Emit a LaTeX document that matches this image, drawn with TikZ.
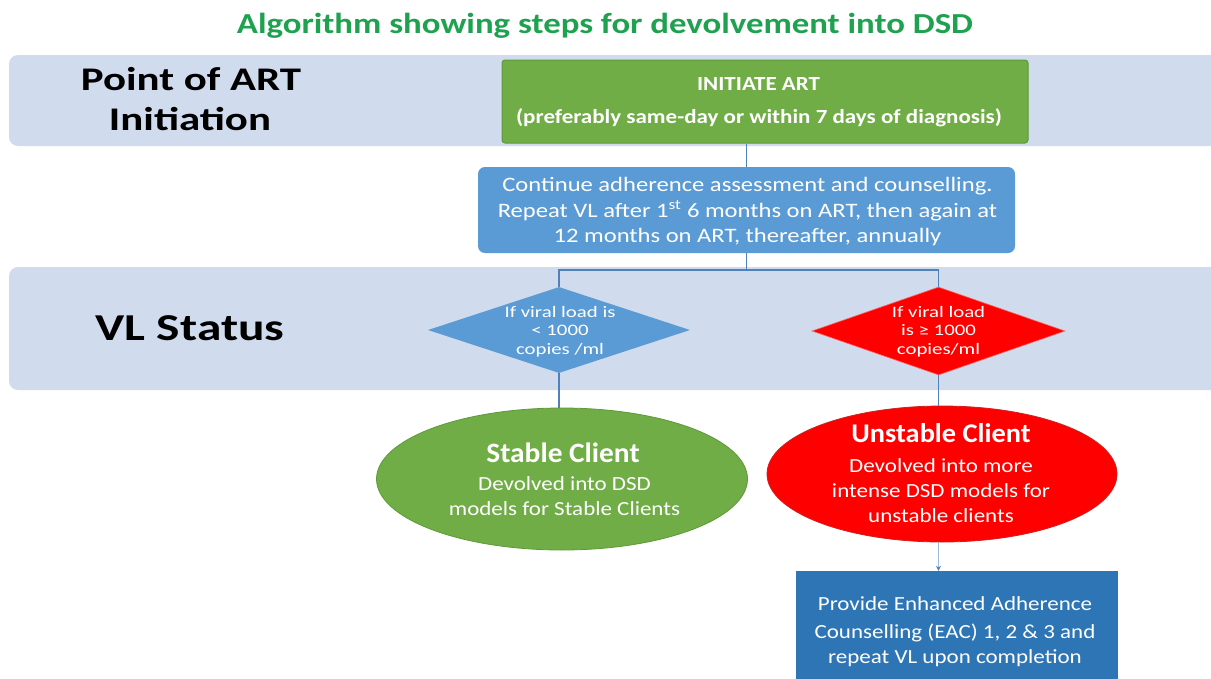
\documentclass[tikz,border=0pt]{standalone}
\usepackage{fontspec}
\setmainfont{Carlito}
\newfontfamily\fw{Carlito}[FakeStretch=1.05]
\newfontfamily\fx{Carlito}[FakeStretch=1.15]
\newfontfamily\fy{Carlito}[FakeStretch=1.2]
\newfontfamily\fz{Carlito}[FakeStretch=1.3]
\usetikzlibrary{shapes.geometric,arrows.meta}
\definecolor{bandc}{HTML}{D0DBED}
\definecolor{greenc}{HTML}{70AD47}
\definecolor{greenb}{HTML}{5E9A38}
\definecolor{bluec}{HTML}{5B9BD5}
\definecolor{eacc}{HTML}{2E75B6}
\definecolor{titlec}{HTML}{1FA24F}
\definecolor{linec}{HTML}{4F81BD}
\definecolor{redb}{HTML}{D02020}
\newcommand{\fs}[1]{\fontsize{#1pt}{1.2\dimexpr #1pt\relax}\selectfont}
\tikzset{
  band/.style={fill=bandc},
  tl/.style={anchor=base,inner sep=0pt,text=white},
  conn/.style={draw=linec,line width=1.1pt},
  dia/.style={diamond,minimum width=#1,minimum height=86,inner sep=0pt},
}
\begin{document}
\begin{tikzpicture}[x=1pt,y=-1pt]
\path[use as bounding box,fill=white] (0,0) rectangle (1211,678);
\begin{scope}
\clip (0,0) rectangle (1211,678);
\fill[band,rounded corners=9] (9,55) rectangle (1240,146);
\fill[band,rounded corners=9] (9,267) rectangle (1240,390);
\end{scope}
% title
\node[tl,text=titlec,font=\fy\bfseries\fs{29}] (title) at (605,33) {Algorithm showing steps for devolvement into DSD};
% row labels
\node[tl,text=black,font=\fz\bfseries\fs{33}] (lab1a) at (191,90) {Point of ART};
\node[tl,text=black,font=\fz\bfseries\fs{33}] (lab1b) at (190,130) {Initiation};
\node[tl,text=black,font=\fz\bfseries\fs{38}] (lab2) at (190,340) {VL Status};
% initiate ART
\node[draw=greenb,fill=greenc,minimum width=526,minimum height=83,rounded corners=3,line width=1pt] (init) at (765,101.5) {};
\node[tl,font=\fx\bfseries\fs{20}] (inita) at (758.5,90) {INITIATE ART};
\node[tl,font=\fx\bfseries\fs{20}] (initb) at (759,123) {(preferably same-day or within 7 days of diagnosis)};
% continue box
\node[fill=bluec,minimum width=537,minimum height=86,rounded corners=7] (cont) at (746.5,210) {};
\node[tl,font=\fy\fs{20.5}] (conta) at (747.5,191) {Continue adherence assessment and counselling.};
\node[tl,font=\fy\fs{20.5}] (contb) at (747.5,217) {Repeat VL after 1\textsuperscript{st} 6 months on ART, then again at};
\node[tl,font=\fy\fs{20.5}] (contc) at (747.5,242) {12 months on ART, thereafter, annually};
% diamonds
\node[dia=262,fill=bluec] (d1) at (559,330) {};
\node[tl,font=\fz\fs{16}] (d1a) at (560,317) {If viral load is};
\node[tl,font=\fz\fs{16}] (d1b) at (560,335.5) {< 1000};
\node[tl,font=\fz\fs{16}] (d1c) at (560,354) {copies /ml};
\node[dia=253,fill=red,draw=red!60!white,line width=0.6pt,minimum height=88] (d2) at (938.5,331) {};
\node[tl,font=\fz\fs{16}] (d2a) at (938.5,317) {If viral load};
\node[tl,font=\fz\fs{16}] (d2b) at (938.5,335.5) {is ≥ 1000};
\node[tl,font=\fz\fs{16}] (d2c) at (938.5,354) {copies/ml};
% ellipses
\node[ellipse,fill=greenc,draw=greenb,line width=0.8pt,minimum width=371,minimum height=142] (e1) at (562,479) {};
\node[tl,font=\fw\bfseries\fs{28}] (e1a) at (563,462) {Stable Client};
\node[tl,font=\fx\fs{20}] (e1b) at (564.5,490) {Devolved into DSD};
\node[tl,font=\fx\fs{20}] (e1c) at (564.5,515) {models for Stable Clients};
\node[ellipse,fill=red,draw=redb,line width=0.8pt,minimum width=350,minimum height=136] (e2) at (942,474) {};
\node[tl,font=\fw\bfseries\fs{27}] (e2a) at (941,442) {Unstable Client};
\node[tl,font=\fx\fs{20}] (e2b) at (941,472) {Devolved into more};
\node[tl,font=\fx\fs{20}] (e2c) at (941,497) {intense DSD models for};
\node[tl,font=\fx\fs{20}] (e2d) at (941,522) {unstable clients};
% EAC box
\node[fill=eacc,minimum width=322,minimum height=118,inner sep=0pt] (eac) at (957,630) {};
\node[tl,font=\fx\fs{20}] (eaca) at (955,610) {Provide Enhanced Adherence};
\node[tl,font=\fx\fs{20}] (eacb) at (955,638) {Counselling (EAC) 1, 2 \& 3 and};
\node[tl,font=\fx\fs{20}] (eacc) at (955,663) {repeat VL upon completion};
% connectors
\coordinate (split) at (746.5,270);
\draw[conn] (init.south -| cont.north) -- (cont.north);
\draw[conn] (cont.south) -- (split);
\draw[conn] (d1.north) |- (split) -| (d2.north);
\draw[conn] (d1.south) -- (d1.south |- e1.north);
\draw[conn] (d2.south) -- (d2.south |- e2.north);
\draw[conn,draw=linec!55!white,-{Stealth[length=5pt,width=5pt,color=linec]}] (e2.south -| d2.south) -- (d2.south |- eac.north);
\end{tikzpicture}
\end{document}
